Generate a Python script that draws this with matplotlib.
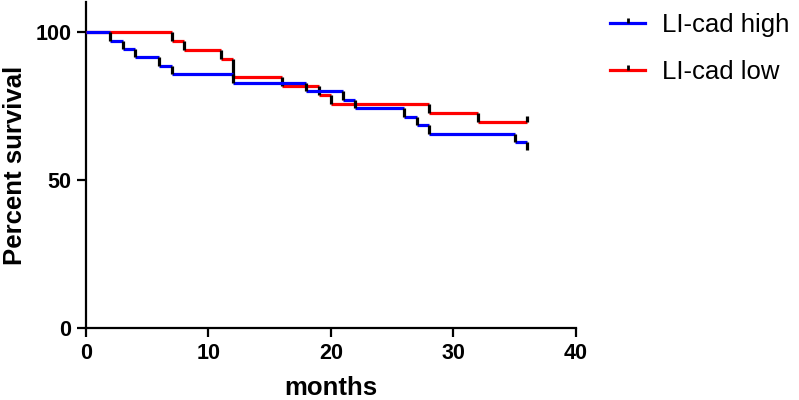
import matplotlib
matplotlib.use('Agg')
import matplotlib.pyplot as plt
from matplotlib.lines import Line2D

plt.rcParams['font.family'] = ['Liberation Sans', 'DejaVu Sans']

# Kaplan-Meier steps (months, percent survival)
high_t = [0, 2, 3, 4, 6, 7, 12, 18, 21, 22, 26, 27, 28, 35, 36]
high_s = [100, 97.1, 94.3, 91.4, 88.6, 85.7, 82.9, 80.0, 77.1, 74.3, 71.4, 68.6, 65.7, 62.9, 60.0]
low_t = [0, 7, 8, 11, 12, 16, 19, 20, 28, 32]
low_s = [100, 97.0, 93.9, 90.9, 84.8, 81.8, 78.8, 75.8, 72.7, 69.7]
high_end = 36
low_end = 36
low_censor_t = [36]
low_censor_s = [69.7]

labels = ['LI-cad high', 'LI-cad low']
colors = ['#0000ff', '#ff0000']

fig = plt.figure(figsize=(7.99, 4.0), dpi=100)
ax = fig.add_axes([0.1076, 0.18, 0.6133, 0.814])

tick_up = [(0, 0), (0, 1)]


def km(ax, t, s, end, color, z):
    t_next = t[1:] + [end]
    for i in range(len(t)):
        if t_next[i] > t[i]:
            ax.hlines(s[i], t[i], t_next[i], color=color, lw=2.3, zorder=z)
    for i in range(1, len(t)):
        ax.vlines(t[i], s[i], s[i - 1], color='black', lw=2.3, zorder=z + 0.5)


km(ax, low_t, low_s, low_end, colors[1], 3)
km(ax, high_t, high_s, high_end, colors[0], 4)
ax.plot(low_censor_t, low_censor_s, ls='none', marker=tick_up, ms=8, mew=2.3,
        color='black', zorder=5)

ax.set_xlim(0, 40)
ax.set_ylim(0, 110)
ax.set_xticks([0, 10, 20, 30, 40])
ax.set_yticks([0, 50, 100])
for sp in ['top', 'right']:
    ax.spines[sp].set_visible(False)
for sp in ['left', 'bottom']:
    ax.spines[sp].set_linewidth(1.6)
    ax.spines[sp].set_color('black')
ax.tick_params(length=6.5, width=1.6, labelsize=15.5, pad=4)
for lab in ax.get_xticklabels() + ax.get_yticklabels():
    lab.set_fontweight('bold')
ax.set_xlabel('months', fontsize=18.5, fontweight='bold', labelpad=9)
ax.set_ylabel('Percent survival', fontsize=18.5, fontweight='bold', labelpad=6)

handles = [Line2D([0], [0], color=c, lw=2.3, marker=tick_up, ms=7, mew=2,
                  mec='black') for c in colors]
fig.legend(handles, labels, loc='upper left', bbox_to_anchor=(0.751, 0.993),
           frameon=False, fontsize=18.5, handlelength=1.36, handletextpad=0.66,
           labelspacing=0.9, borderaxespad=0)

fig.savefig('out.png', dpi=100)
